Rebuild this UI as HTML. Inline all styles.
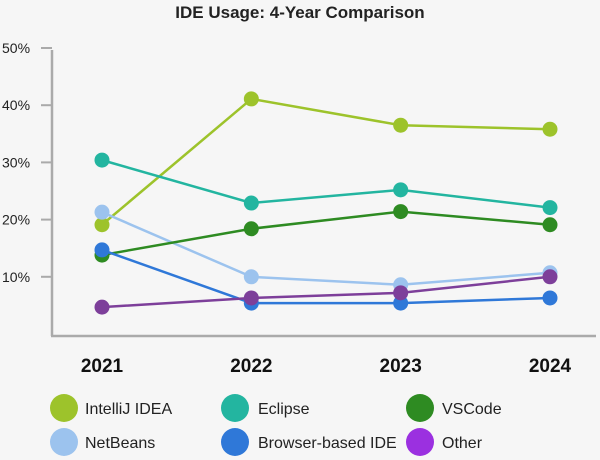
<!DOCTYPE html>
<html><head><meta charset="utf-8"><style>
body{margin:0;background:#f6f6f6;font-family:"Liberation Sans",sans-serif;}
svg{display:block}
</style></head><body>
<svg id="c" width="600" height="460">
<rect width="600" height="460" fill="#f6f6f6"/>
<text x="300" y="18" text-anchor="middle" font-size="17" font-weight="bold" fill="#222">IDE Usage: 4-Year Comparison</text>
</svg>
<script>
const categories=["2021","2022","2023","2024"];
const yTicks=[10,20,30,40,50];
const seriesNames=["IntelliJ IDEA","Eclipse","VSCode","NetBeans","Browser-based IDE","Other"];
const intellij=[19.1,41.1,36.5,35.8];
const eclipse=[30.4,22.9,25.2,22.1];
const vscode=[13.8,18.4,21.4,19.1];
const netbeans=[21.3,10.0,8.6,10.7];
const browser=[14.7,5.4,5.4,6.3];
const other=[4.7,6.3,7.2,10.0];
const colors=["#9dc32b","#23b5a0","#2e8b22","#9cc3ee","#2f78d8","#7d3f9a"];
const legendColors=["#9dc32b","#23b5a0","#2e8b22","#9cc3ee","#2f78d8","#9b30e0"];
const svg=document.getElementById('c');const NS="http://www.w3.org/2000/svg";
function mk(t,a,p){const e=document.createElementNS(NS,t);for(const k in a)e.setAttribute(k,a[k]);(p||svg).appendChild(e);return e;}
const xPos=[102,253,404,550];
function x(i){return xPos[0]+(xPos[3]-xPos[0])*i/(categories.length-1);}
function y(v){return 334-v*5.72;}
let e=mk('line',{x1:52,y1:50,x2:52,y2:336,stroke:'#aaa','stroke-width':2.5});

e=mk('line',{x1:51,y1:336,x2:596,y2:336,stroke:'#aaa','stroke-width':2.5});

yTicks.forEach(t=>{
 let l=mk('line',{x1:41,y1:y(t),x2:52,y2:y(t),stroke:'#aaa','stroke-width':2});
 
 let tx=mk('text',{x:2,y:y(t)+5,'font-size':14,fill:'#222'});tx.textContent=t+'%';
 
});
categories.forEach((c,i)=>{
 let tx=mk('text',{x:x(i),y:372,'text-anchor':'middle','font-size':19,'font-weight':'bold',fill:'#111'});tx.textContent=c;
 
});
const all=[intellij,eclipse,vscode,netbeans,browser,other];
const order=[0,1,3,2,4,5];
order.forEach(s=>{
 const d=all[s];const g=mk('g',{});
 
 
 const p=mk('polyline',{points:d.map((v,i)=>x(i)+','+y(v)).join(' '),fill:'none',stroke:colors[s],'stroke-width':2.5},g);
 
 d.forEach((v,i)=>{const c=mk('circle',{cx:x(i),cy:y(v),r:7.5,fill:colors[s]},g);
  });
});
const lx=[64,235,420],ly=[408,442],tx0=[85,258,442];
seriesNames.forEach((n,i)=>{
 const col=i%3,row=Math.floor(i/3);
 const g=mk('g',{});
 
 mk('circle',{cx:lx[col],cy:ly[row],r:14,fill:legendColors[i]},g);
 const t=mk('text',{x:tx0[col],y:ly[row]+6,'font-size':16,fill:'#222'},g);t.textContent=n;
});
</script>
</body></html>
